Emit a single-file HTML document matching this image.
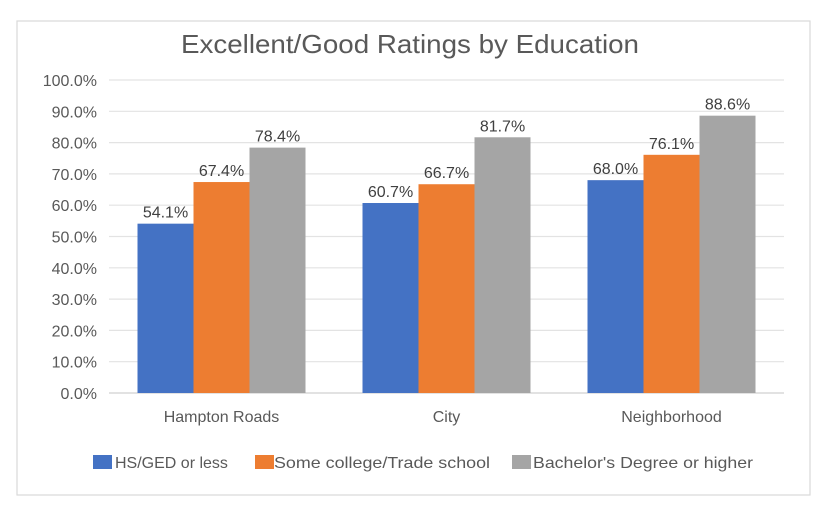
<!DOCTYPE html>
<html><head><meta charset="utf-8"><style>
body{margin:0;background:#fff;}
svg text{font-family:"Liberation Sans",sans-serif;}
</style></head><body>
<svg width="830" height="515" viewBox="0 0 830 515">
<rect x="17" y="21" width="793" height="474" fill="#fff" stroke="#d9d9d9" stroke-width="1.2"/>
<text x="410" y="53" text-anchor="middle" font-size="26" textLength="458" lengthAdjust="spacingAndGlyphs" fill="#595959">Excellent/Good Ratings by Education</text>
<g id="grid"></g><g id="bars"></g><g id="labels"></g>
<g>
<rect x="93" y="455" width="19" height="14" fill="#4472c4"/>
<text x="115" y="468" font-size="16" fill="#595959">HS/GED or less</text>
<rect x="255" y="455" width="19" height="14" fill="#ed7d31"/>
<text x="274" y="468" font-size="16" textLength="216" lengthAdjust="spacingAndGlyphs" fill="#595959">Some college/Trade school</text>
<rect x="512" y="455" width="19" height="14" fill="#a5a5a5"/>
<text x="533" y="468" font-size="16" textLength="220" lengthAdjust="spacingAndGlyphs" fill="#595959">Bachelor's Degree or higher</text>
</g>
</svg>
<script>
const categories=["Hampton Roads","City","Neighborhood"];
const hsValues=[54.1,60.7,68.0];
const collegeValues=[67.4,66.7,76.1];
const bachelorValues=[78.4,81.7,88.6];
const yTicks=[0,10,20,30,40,50,60,70,80,90,100];
const NS="http://www.w3.org/2000/svg";
const x0=109,x1=784,yBase=393,yTop=80;
function y(v){return yBase-(v/100)*(yBase-yTop);}
function catX(i){return x0+(x1-x0)/categories.length*i;}
const catW=(x1-x0)/categories.length, barW=56;
function mk(tag,attrs,parent){const e=document.createElementNS(NS,tag);for(const k in attrs)e.setAttribute(k,attrs[k]);parent.appendChild(e);return e;}
const grid=document.getElementById('grid'),bars=document.getElementById('bars'),labels=document.getElementById('labels');
yTicks.forEach(t=>{
 const l=mk('line',{x1:x0,x2:x1,y1:y(t),y2:y(t),stroke:t===0?'#d0d0d0':'#e3e3e3','stroke-width':1.2},grid);
 
 
 const tx=mk('text',{x:97,y:y(t)+6,'text-anchor':'end','font-size':16,fill:'#595959'},grid);
 tx.textContent=t.toFixed(1)+'%';
 
 
});
const series=[[hsValues,'#4472c4','hs'],[collegeValues,'#ed7d31','college'],[bachelorValues,'#a5a5a5','bachelors']];
categories.forEach((c,i)=>{
 const gx=catX(i)+(catW-3*barW)/2;
 series.forEach((s,j)=>{
  const v=s[0][i],bx=gx+j*barW;
  const r=mk('rect',{x:bx,y:y(v),width:barW,height:yBase-y(v),fill:s[1]},bars);
  
  
  const t=mk('text',{x:bx+barW/2,y:y(v)-6,'text-anchor':'middle','font-size':16,fill:'#404040'},labels);
  t.textContent=v.toFixed(1)+'%';
  
  
 });
 const ct=mk('text',{x:catX(i)+catW/2,y:422,'text-anchor':'middle','font-size':16,fill:'#595959'},labels);
 ct.textContent=c;
 
 
});
</script>
</body></html>
